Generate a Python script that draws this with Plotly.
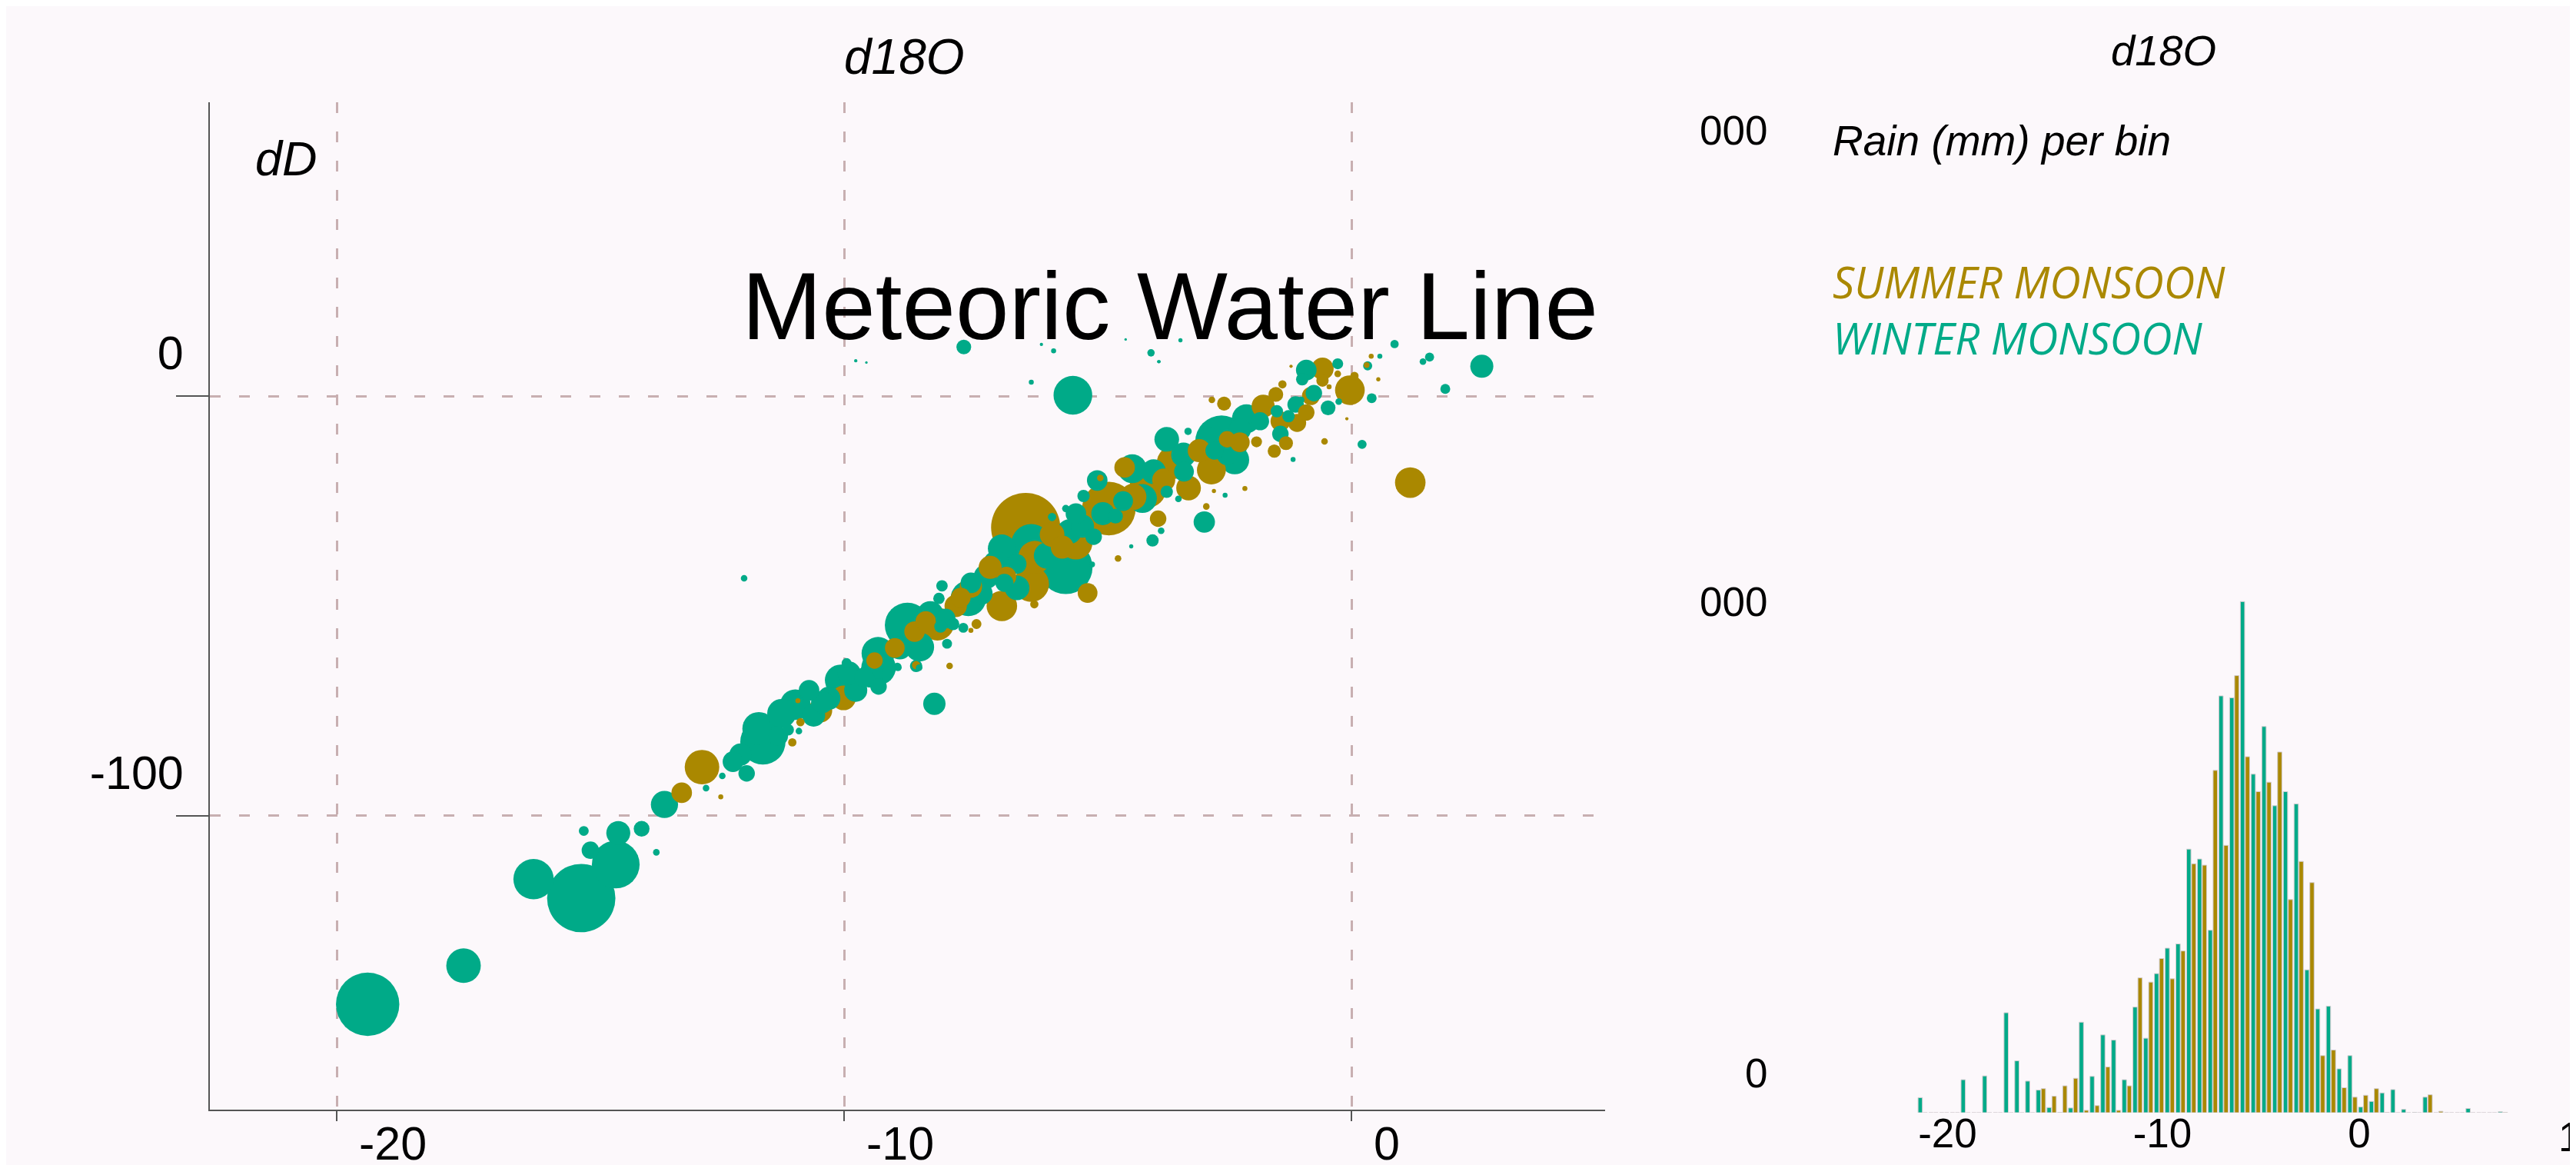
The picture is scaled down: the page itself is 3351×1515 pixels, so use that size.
import plotly.graph_objects as go

# ---------------- DATA ----------------
# Winter monsoon samples: d18O (permil), dD (permil), rain (mm)
winter_d18o = [-19.39, -17.50, -16.12, -15.18, -14.50, -14.45, -15.00, -15.13, -13.99, -13.70,
               -13.54, -12.72, -12.40, -11.92, -12.19, -11.60, -11.68, -11.23, -11.10, -10.89,
               -12.04, -10.96, -10.69, -10.43, -10.07, -9.77, -9.95, -9.32, -9.32, -9.33,
               -8.75, -9.47, -9.83, -8.51, -8.58, -8.07, -8.13, -7.55, -7.50, -7.85,
               -7.65, -8.10, -7.97, -6.89, -6.31, -6.59, -6.84, -5.63, -5.56, -5.43,
               -5.01, -5.28, -5.08, -4.65, -4.32, -4.12, -3.92, -3.75, -3.64, -3.64,
               -3.31, -2.81, -2.45, -2.90, -3.41, -2.49, -4.34, -5.11, -5.63, -5.90,
               -8.22, -8.95, 2.57, 1.85, 1.54, 1.41, 0.85, 0.56, 0.40, 0.32,
               0.21, -0.27, -0.46, -0.74, -0.89, -0.97, -0.25, -0.99, -1.40, -1.47,
               -1.24, -2.07, -2.56, -2.30, -1.15, -3.22, -3.37, -3.79, -7.64, -5.49,
               -6.31, -6.11, -5.87, -3.95, -3.80, -9.77, -9.56, -4.45, -11.97, -8.93,
               -8.52, -8.30, -7.20, -6.00, -4.90, -3.90, -2.20, -9.90, -10.60, -7.00,
               -11.30, -10.30, -9.60, -8.90, -8.00, -7.30, -6.60, -5.30, -4.50, -3.30,
               -2.70, -1.80, -1.10]
winter_dd = [-144.9, -135.7, -115.1, -119.6, -111.6, -104.1, -108.2, -103.6, -103.1, -108.7,
             -97.3, -93.4, -90.5, -89.9, -87.1, -82.4, -79.2, -75.6, -79.5, -79.8,
             -85.4, -73.5, -70.1, -72.9, -67.7, -70.1, -63.6, -69.2, -64.7, -61.3,
             -54.6, -66.5, -68.9, -59.8, -64.3, -45.2, -48.2, -48.2, -44.5, -54.3,
             -55.2, -54.9, -59.0, -36.3, -35.3, -45.7, -44.5, -40.8, -32.3, -28.0,
             -20.1, -23.8, -33.5, -28.6, -17.3, -24.4, -34.4, -32.1, -22.8, -10.3,
             -14.0, -10.3, -14.0, -30.0, -24.5, -23.6, -35.8, -40.1, -26.8, -28.8,
             -73.3, -64.5, 7.1, 1.7, 9.3, 8.2, 12.4, 9.5, -0.5, 7.2,
             -11.5, 7.7, -2.8, 0.7, 6.2, 4.0, -1.3, -0.9, -9.0, -3.6,
             -4.8, -5.4, -10.9, -15.2, -15.1, -8.4, 13.3, 8.2, 11.7, 0.2,
             3.3, 12.3, 10.8, 10.3, 8.2, 8.4, 8.0, 13.5, -43.4, -64.7,
             -64.7, -52.0, -43.0, -38.0, -28.0, -18.0, -8.0, -66.0, -76.0, -40.0,
             -81.0, -72.0, -67.0, -60.0, -53.0, -47.0, -40.0, -31.0, -25.0, -18.0,
             -13.0, -6.0, -2.0]
winter_rain = [370, 110, 150, 430, 210, 53, 28, 9, 23, 4,
               68, 4, 4, 25, 39, 189, 100, 77, 12, 4,
               46, 86, 39, 46, 90, 49, 9, 25, 110, 100,
               189, 56, 56, 77, 14, 12, 12, 116, 39, 14,
               9, 14, 9, 72, 150, 56, 30, 264, 56, 39,
               39, 14, 25, 20, 77, 77, 14, 4, 14, 56,
               56, 56, 39, 42, 4, 2.3, 1.6, 3, 5, 6.3,
               46, 6.3, 49, 9, 7.6, 4, 6.3, 2.3, 9, 7.6,
               7.6, 11, 20, 25, 39, 14, 4, 4, 25, 14,
               14, 77, 256, 77, 2.3, 5, 1.6, 1, 20, 138,
               2.3, 1, 2.3, 5, 1, 1, 0.6, 0.6, 4, 4,
               4, 64, 56, 64, 49, 56, 46, 49, 49, 64,
               36, 49, 36, 49, 36, 49, 36, 49, 36, 36,
               30, 30, 25]

# Summer monsoon samples
summer_d18o = [-12.80, -13.20, -11.02, -10.86, -12.43, -10.47, -10.01, -8.61, -8.39, -8.58,
               -10.91, -6.42, -7.12, -6.89, -6.31, -8.16, -7.50, -7.39, -6.24, -5.43,
               -5.20, -4.78, -4.47, -4.02, -3.51, -3.21, -3.81, -2.76, -2.45, -4.60,
               -6.25, -7.92, -2.86, -0.03, -0.57, -0.57, 1.16, 0.30, 0.39, 0.06,
               -0.27, -0.44, -1.07, -0.89, -1.29, -1.52, -1.74, -1.49, -1.36, -2.51,
               -2.75, -1.87, -2.10, -0.53, -0.09, 0.53, -1.19, -2.71, -7.50, -4.95,
               -7.80, -5.90, -4.30, -3.00, -1.40, -9.00, -5.20,
               -9.40, -7.70, -6.80, -5.70, -3.70, -2.20, -0.80]
summer_dd = [-88.4, -94.5, -82.5, -77.7, -95.5, -74.9, -71.9, -56.1, -53.7, -64.1,
             -72.6, -31.3, -40.8, -50.0, -44.8, -54.3, -45.4, -54.3, -38.4, -35.0,
             -46.9, -26.8, -17.0, -22.2, -15.8, -21.9, -29.2, -17.6, -10.3, -38.7,
             -49.6, -64.3, -26.3, 1.4, 6.5, 3.7, -20.6, 7.4, 9.5, 4.8,
             5.3, 2.2, -6.4, -3.9, -11.2, -13.1, -2.4, 0.4, 2.8, -1.8,
             -0.9, -10.9, -22.0, -10.8, -5.4, 4.0, 7.1, -22.6, -55.8, -19.5,
             -50.0, -33.0, -24.0, -13.0, -6.0, -60.0, -30.0,
             -63.0, -48.0, -43.0, -36.0, -20.0, -11.0, 0.0]
summer_rain = [110, 39, 6.3, 6.3, 2.3, 53, 56, 39, 39, 6.3,
               2.3, 441, 49, 86, 116, 100, 46, 9, 100, 100,
               36, 264, 39, 127, 100, 56, 25, 77, 25, 4,
               6.3, 4, 4, 81, 46, 14, 86, 3, 2.3, 6.3,
               4, 2.3, 30, 25, 18, 16, 49, 20, 6.3, 18,
               4, 11, 2.3, 4, 1, 1.6, 1, 1.6, 2.3, 4,
               46, 56, 64, 49, 36, 36, 72,
               25, 36, 36, 49, 49, 36, 30]

# Histogram: rain (mm) per 0.5 permil d18O bin
bin_centers = [-19.25, -18.75, -18.25, -17.75, -17.25, -16.75, -16.25, -15.75, -15.25, -14.75,
               -14.25, -13.75, -13.25, -12.75, -12.25, -11.75, -11.25, -10.75, -10.25, -9.75,
               -9.25, -8.75, -8.25, -7.75, -7.25, -6.75, -6.25, -5.75, -5.25, -4.75,
               -4.25, -3.75, -3.25, -2.75, -2.25, -1.75, -1.25, -0.75, -0.25, 0.25,
               0.75, 1.25, 1.75, 2.25, 2.75, 3.25, 3.75, 4.25, 4.75, 5.25,
               5.75, 6.25, 6.75, 7.25, 7.75]
winter_bin_rain = [32, 0, 0, 0, 70, 0, 78, 0, 212, 110,
                   67, 48, 11, 0.5, 10, 192, 77, 165, 154, 70,
                   224, 158, 295, 349, 358, 559, 538, 387, 884, 880,
                   1084, 718, 819, 651, 681, 655, 303, 220, 226, 93,
                   121, 12, 24, 42, 49, 7, 0.5, 33, 0, 0,
                   0, 9, 0, 0, 2]
summer_bin_rain = [0, 0, 0, 0, 0, 0, 0, 0, 0, 0,
                   0, 51, 35, 57, 73, 5, 15, 97, 5, 57,
                   286, 277, 327, 284, 343, 528, 525, 726, 567, 927,
                   755, 681, 701, 765, 452, 533, 488, 121, 133, 53,
                   33, 37, 51, 0.5, 0, 0, 0, 38, 3, 0,
                   0, 0, 0, 0, 0.5]

main_xticks = [-20, -10, 0]
main_xticktext = ["-20", "-10", "0"]
main_yticks = [-100, 0]
main_yticktext = ["-100", "0"]
hist_xticks = [-20, -10, 0]
hist_xticktext = ["-20", "-10", "0"]
hist_edge_label = "1"          # visible part of the "10" tick label, cut by the page edge
hist_yticks = [0, 1000, 2000]
hist_yticktext = ["0", "000", "000"]

# ---------------- STYLE ----------------
W, H = 3351, 1515
BG = "#fcf8fb"
TEAL = "#00aa88"
GOLD = "#aa8800"
GRID = "#c8afb1"
AXIS = "#555555"
FONT = "Liberation Sans, Arial, sans-serif"

# combine scatter points, big bubbles underneath
pts = [(x, y, r, TEAL) for x, y, r in zip(winter_d18o, winter_dd, winter_rain)]
pts += [(x, y, r, GOLD) for x, y, r in zip(summer_d18o, summer_dd, summer_rain)]
pts.sort(key=lambda p: -p[2])
max_rain = max(p[2] for p in pts)

fig = go.Figure()
fig.add_trace(go.Scatter(
    x=[p[0] for p in pts], y=[p[1] for p in pts], mode="markers",
    marker=dict(size=[p[2] for p in pts], color=[p[3] for p in pts],
                sizemode="area", sizeref=2 * max_rain / 90 ** 2, sizemin=1,
                line=dict(width=0), opacity=1),
    xaxis="x", yaxis="y", showlegend=False, hoverinfo="skip"))

bar_line = dict(color="#d2cdd0", width=1)
fig.add_trace(go.Bar(x=bin_centers, y=winter_bin_rain, marker=dict(color=TEAL, line=bar_line),
                     xaxis="x2", yaxis="y2", showlegend=False, name="WINTER MONSOON"))
fig.add_trace(go.Bar(x=bin_centers, y=summer_bin_rain, marker=dict(color=GOLD, line=bar_line),
                     xaxis="x2", yaxis="y2", showlegend=False, name="SUMMER MONSOON"))

grid = dict(showgrid=True, gridcolor=GRID, griddash="14px,24px", gridwidth=3)

fig.update_layout(
    width=W, height=H, margin=dict(l=0, r=0, t=0, b=0),
    paper_bgcolor=BG, plot_bgcolor=BG,
    barmode="group", bargap=0.07, bargroupgap=0.14,
    font=dict(family=FONT, color="black"),
    title=dict(text="Meteoric Water Line", x=1514 / W, xanchor="center",
               y=(H - 389) / H, yanchor="middle", yref="paper", xref="paper",
               font=dict(size=125, family=FONT, color="black")),
    xaxis=dict(domain=[265 / W, 2080 / W], range=[-22.5, 5],
               tickvals=main_xticks, ticktext=main_xticktext,
               ticks="outside", ticklen=13, tickwidth=2, tickcolor=AXIS,
               showline=True, linecolor=AXIS, linewidth=2, zeroline=False,
               ticklabelposition="outside right", ticklabelshift=27, ticklabelstandoff=-10,
               tickfont=dict(size=61, family=FONT), anchor="y", **grid),
    yaxis=dict(domain=[80 / H, 1390 / H], range=[-170, 70],
               tickvals=main_yticks, ticktext=main_yticktext,
               ticks="outside", ticklen=42, tickwidth=2, tickcolor=AXIS,
               showline=True, linecolor=AXIS, linewidth=2, zeroline=False,
               ticklabelposition="outside top", ticklabelshift=-13, ticklabelstandoff=20,
               tickfont=dict(size=61, family=FONT), anchor="x", **grid),
    xaxis2=dict(domain=[2304.5 / W, 3310.7 / W], range=[-26, 10],
                tickvals=hist_xticks, ticktext=hist_xticktext,
                ticks="", showline=False, showgrid=False, zeroline=False,
                ticklabelposition="outside right", ticklabelshift=15, ticklabelstandoff=-9,
                tickfont=dict(size=53, family=FONT), anchor="y2"),
    yaxis2=dict(domain=[76 / H, 1390 / H], range=[0, 2143],
                tickvals=hist_yticks, ticktext=hist_yticktext,
                ticks="", showline=False, showgrid=False, zeroline=False,
                ticklabelposition="outside top", ticklabelshift=-14, ticklabelstandoff=12,
                tickfont=dict(size=53, family=FONT), anchor="x2"),
)

ann = [
    dict(text="d18O", x=1168 / W, y=(H - 66) / H, size=64, color="black", fam=FONT, xa="center", it=True),
    dict(text="dD", x=364 / W, y=(H - 198) / H, size=63, color="black", fam=FONT, xa="center", it=True),
    dict(text="d18O", x=2806 / W, y=(H - 57) / H, size=56, color="black", fam=FONT, xa="center", it=True),
    dict(text="Rain (mm) per bin", x=2374 / W, y=(H - 175) / H, size=55, color="black", fam=FONT, xa="left", it=True),
    dict(text="SUMMER MONSOON", x=2374 / W, y=(H - 358) / H, size=56, color=GOLD, fam="Open Sans", xa="left", it=True),
    dict(text="WINTER MONSOON", x=2374 / W, y=(H - 431) / H, size=56, color=TEAL, fam="Open Sans", xa="left", it=True),
    dict(text=hist_edge_label, x=1.0, y=(H - 1470) / H, size=53, color="black", fam=FONT, xa="right", it=False),
]
for a in ann:
    fig.add_annotation(text=a["text"], x=a["x"], y=a["y"], xref="paper", yref="paper",
                       xanchor=a["xa"], yanchor="middle", showarrow=False,
                       font=dict(size=a["size"], color=a["color"], family=a["fam"],
                                 style="italic" if a["it"] else "normal"))

fig.write_html("out.html")
